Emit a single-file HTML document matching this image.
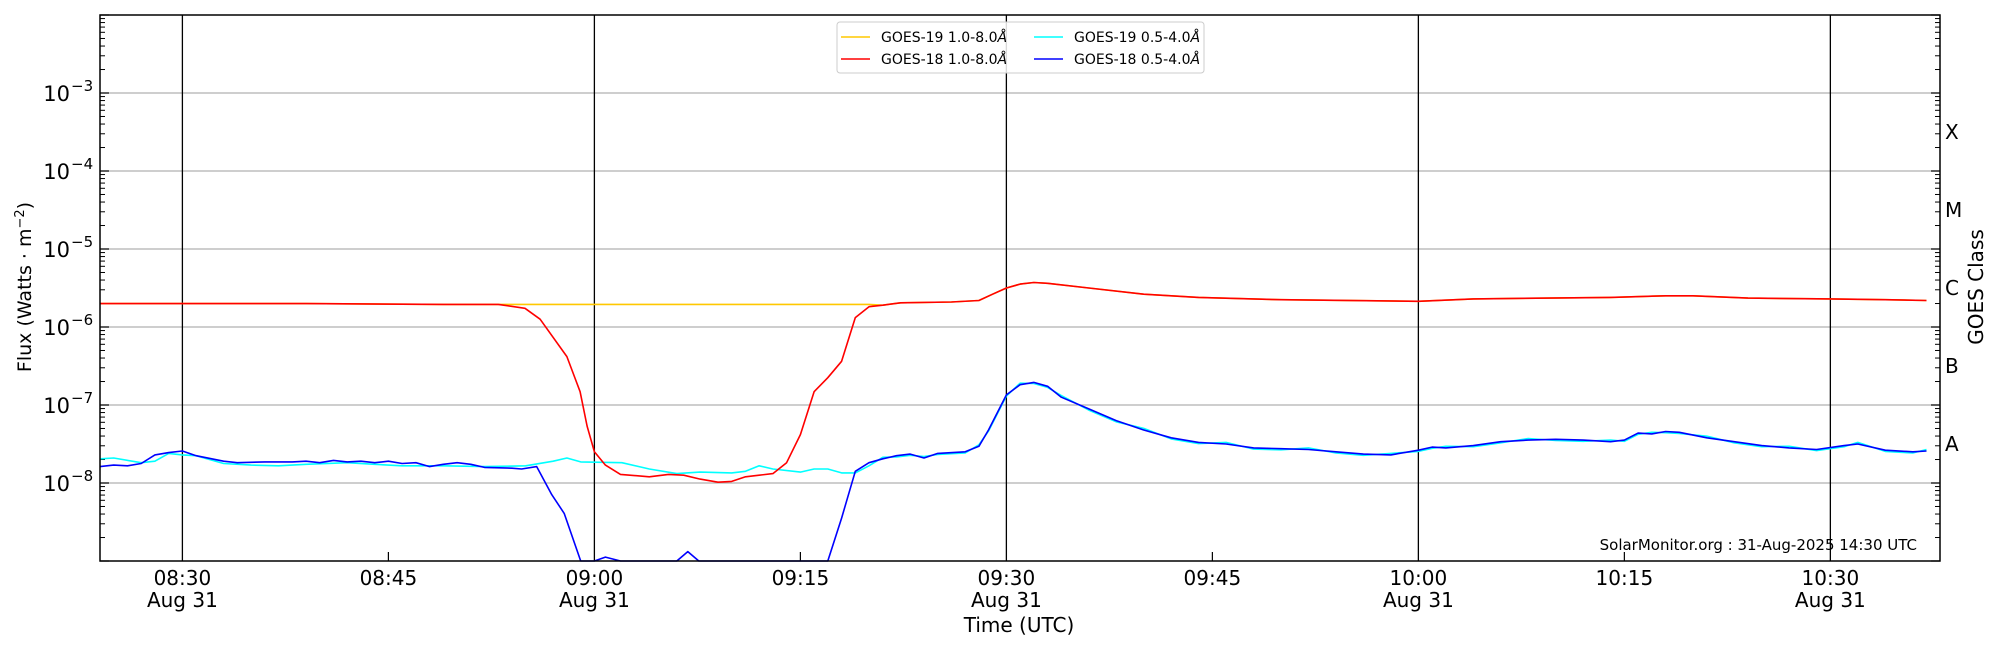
<!DOCTYPE html>
<html><head><meta charset="utf-8"><style>
html,body{margin:0;padding:0;background:#fff;}
svg{display:block;font-family:"DejaVu Sans","Liberation Sans",sans-serif;}
</style></head><body>
<svg id="s" width="2000" height="650" xmlns="http://www.w3.org/2000/svg"></svg>
<script>
const S=document.getElementById('s');
const L=100,R=1940,T=15,B=561;
const X=t=>L+13.733*t, Y=l=>483-(l+8)*78;
let h='';
for(let d=-8;d<=-3;d++){h+=`<line x1="${L}" x2="${R}" y1="${Y(d)}" y2="${Y(d)}" stroke="#b0b0b0" stroke-width="1.2"/>`;}
[6,36,66,96,126].forEach(t=>{h+=`<line x1="${X(t)}" x2="${X(t)}" y1="${T}" y2="${B}" stroke="#000" stroke-width="1.3"/>`;});
for(let d=-9;d<=-2;d++){
 const y=Y(d);
 h+=`<line x1="${L}" x2="${L+9}" y1="${y}" y2="${y}" stroke="#000" stroke-width="1.2"/>`;
 h+=`<line x1="${R}" x2="${R-9}" y1="${y}" y2="${y}" stroke="#000" stroke-width="1.2"/>`;
 if(d<-2)for(let m=2;m<=9;m++){const yy=Y(d+Math.log10(m));
  h+=`<line x1="${L}" x2="${L+5}" y1="${yy}" y2="${yy}" stroke="#000" stroke-width="1"/>`;
  h+=`<line x1="${R}" x2="${R-5}" y1="${yy}" y2="${yy}" stroke="#000" stroke-width="1"/>`;}
}
[21,51,81,111].forEach(t=>{h+=`<line x1="${X(t)}" x2="${X(t)}" y1="${B}" y2="${B-9}" stroke="#000" stroke-width="1.2"/>`;});
function line(pts,col,w){let p=pts.map(a=>X(a[0]).toFixed(1)+','+Y(Math.max(-9,a[1])).toFixed(1)).join(' ');
 h+=`<polyline points="${p}" fill="none" stroke="${col}" stroke-width="${w}" stroke-linejoin="round"/>`;}
const redA=[[0,-5.70],[6,-5.70],[15,-5.70],[25,-5.71],[29,-5.71],[30.95,-5.76],[32.05,-5.90],[34,-6.38],[34.96,-6.83],[35.47,-7.27],[36,-7.60],[36.8,-7.77],[37.9,-7.89],[40,-7.92],[41.4,-7.89],[42.5,-7.9],[43.7,-7.95],[45,-7.99],[46,-7.98],[47,-7.92],[48,-7.90],[49,-7.88],[50,-7.74],[51,-7.38],[52,-6.83],[53,-6.65],[54,-6.44],[55,-5.88],[56,-5.74],[57,-5.72],[58.3,-5.69],[62,-5.68],[64,-5.66],[65,-5.58],[66,-5.5],[67,-5.45],[68,-5.43],[69,-5.44],[72,-5.5],[76,-5.58],[80,-5.62],[86,-5.65],[96,-5.67],[100,-5.64],[110,-5.62],[114,-5.6],[116,-5.6],[120,-5.63],[126,-5.64],[130,-5.65],[133,-5.66]];
const yel=redA.map(a=>[a[0],a[0]>30&&a[0]<57?-5.71:a[1]]);
const blue=[[0,-7.79],[1,-7.77],[2,-7.78],[3,-7.75],[4,-7.64],[5,-7.61],[6,-7.59],[7,-7.65],[9,-7.72],[10,-7.74],[12,-7.73],[14,-7.73],[15,-7.72],[16,-7.74],[17,-7.71],[18,-7.73],[19,-7.72],[20,-7.74],[21,-7.72],[22,-7.75],[23,-7.74],[24,-7.79],[25,-7.76],[26,-7.74],[27,-7.76],[28,-7.8],[30,-7.81],[30.7,-7.82],[31.8,-7.79],[32.9,-8.15],[33.8,-8.39],[35,-9],[36,-9],[36.8,-8.95],[37.9,-9],[42,-9],[42.8,-8.88],[43.6,-9],[53,-9],[54,-8.45],[55,-7.85],[56,-7.74],[57,-7.69],[58,-7.65],[59,-7.63],[60,-7.68],[61,-7.62],[63,-7.60],[64,-7.53],[64.7,-7.32],[66,-6.87],[67,-6.74],[68,-6.71],[69,-6.76],[70,-6.9],[72,-7.05],[74,-7.2],[76,-7.32],[78,-7.42],[80,-7.48],[82,-7.5],[84,-7.55],[86,-7.56],[88,-7.57],[90,-7.6],[92,-7.63],[94,-7.64],[96,-7.58],[97,-7.54],[98,-7.55],[100,-7.52],[102,-7.47],[104,-7.45],[106,-7.44],[108,-7.45],[110,-7.47],[111,-7.45],[112,-7.36],[113,-7.37],[114,-7.34],[115,-7.35],[117,-7.42],[119,-7.47],[121,-7.52],[123,-7.55],[125,-7.57],[127,-7.52],[128,-7.5],[130,-7.58],[132,-7.6],[133,-7.59]];
const cyanPre=[[0,-7.69],[1,-7.68],[3,-7.74],[4,-7.72],[5,-7.62],[6,-7.64],[7,-7.65],[9,-7.75],[11,-7.77],[13,-7.78],[15,-7.76],[18,-7.74],[20,-7.76],[22,-7.78],[25,-7.78],[28,-7.79],[31,-7.78],[33,-7.72],[34,-7.68],[35,-7.73],[38,-7.74],[40,-7.82],[42,-7.88],[43.7,-7.86],[46,-7.87],[47,-7.85],[48,-7.78],[49,-7.82],[51,-7.86],[52,-7.82],[53,-7.82],[54,-7.87],[55,-7.87],[56,-7.78]];
const cyan=cyanPre.concat(blue.filter(a=>a[0]>56).map((a,i)=>[a[0],a[1]+(i%3==0?0.02:-0.015)]));
line(yel,'#ffc800',1.6);
line(cyan,'#00ffff',1.6);
line(redA,'#ff0000',1.6);
line(blue,'#0000ff',1.6);
h+=`<rect x="${L}" y="${T}" width="${R-L}" height="${B-T}" fill="none" stroke="#000" stroke-width="1.5"/>`;
for(let d=-8;d<=-3;d++){const y=Y(d);
 h+=`<text x="70" y="${y+8}" font-size="21" text-anchor="end">10</text><text x="71" y="${y-2}" font-size="15">−${-d}</text>`;}
[[6,'08:30',1],[21,'08:45',0],[36,'09:00',1],[51,'09:15',0],[66,'09:30',1],[81,'09:45',0],[96,'10:00',1],[111,'10:15',0],[126,'10:30',1]].forEach(a=>{
 h+=`<text x="${X(a[0])}" y="585" font-size="20" text-anchor="middle">${a[1]}</text>`;
 if(a[2])h+=`<text x="${X(a[0])}" y="607" font-size="20" text-anchor="middle">Aug 31</text>`;});
h+=`<text x="1019" y="632" font-size="20" text-anchor="middle">Time (UTC)</text>`;
h+=`<text transform="translate(31,287) rotate(-90)" font-size="19" text-anchor="middle">Flux (Watts · m<tspan baseline-shift="super" font-size="13">−2</tspan>)</text>`;
h+=`<text transform="translate(1983,287) rotate(-90)" font-size="20" text-anchor="middle">GOES Class</text>`;
[['X',-3.5],['M',-4.5],['C',-5.5],['B',-6.5],['A',-7.5]].forEach(a=>{h+=`<text x="1945" y="${Y(a[1])+7}" font-size="20">${a[0]}</text>`;});
h+=`<text x="1917" y="550" font-size="15" text-anchor="end">SolarMonitor.org : 31-Aug-2025 14:30 UTC</text>`;
h+=`<rect x="837" y="22" width="367" height="51" rx="3" fill="#fff" fill-opacity="0.85" stroke="#ccc"/>`;
[[0,0,'#ffc800','GOES-19 1.0-8.0'],[0,1,'#ff0000','GOES-18 1.0-8.0'],[1,0,'#00ffff','GOES-19 0.5-4.0'],[1,1,'#0000ff','GOES-18 0.5-4.0']].forEach(a=>{
 const x0=a[0]?1034:841, y0=a[1]?59:37;
 h+=`<line x1="${x0}" x2="${x0+29}" y1="${y0}" y2="${y0}" stroke="${a[2]}" stroke-width="1.6"/>`;
 h+=`<text x="${x0+40}" y="${y0+5}" font-size="14">${a[3]}<tspan font-style="italic">Å</tspan></text>`;});
S.innerHTML=h;
</script>
</body></html>
